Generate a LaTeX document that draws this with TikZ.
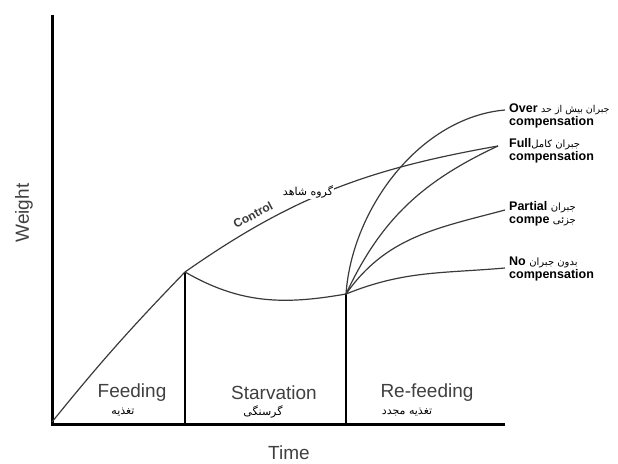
\documentclass[tikz,border=0pt]{standalone}
\usepackage{fontspec}
\setmainfont{Liberation Sans}
\newfontfamily\farsi[Script=Arabic]{DejaVu Sans}
\TeXXeTstate=1
\usepackage{tikz}
\definecolor{ink}{HTML}{3A3A3A}
\definecolor{grey}{HTML}{404040}
\newcommand{\fa}[2][11]{{\farsi\mdseries\fontsize{#1}{12}\selectfont\beginR #2\endR}}

\begin{document}
\begin{tikzpicture}[x=1pt,y=1pt,
    axis/.style={line width=3pt, black},
    phase/.style={line width=2.4pt, black},
    curve/.style={line width=1.2pt, ink},
    big/.style={font=\fontsize{19}{19}\selectfont, text=grey, inner sep=0pt},
    fa/.style={inner sep=1pt},
    comp/.style={font=\fontsize{12.5}{13}\selectfont\bfseries, align=left, anchor=west, inner sep=0pt}]
    \useasboundingbox (0,0) rectangle (618,463);
    \coordinate (top) at (52,448);
    \coordinate (O) at (52,39);
    \coordinate (xend) at (505,39);
    \coordinate (start) at (52,41);
    \coordinate (peak) at (185,191);
    \coordinate (dip) at (346,169);
    \coordinate (peakbase) at (185,39);
    \coordinate (dipbase) at (346,39);
    \coordinate (over) at (505,353);
    \coordinate (full) at (498,317);
    \coordinate (partial) at (505,253);
    \coordinate (none) at (505,195);
    % axes and phases
    \draw [axis] (top) -- (O) -- (xend);
    \draw [phase] (peakbase) -- (peak);
    \draw [phase] (dipbase) -- (dip);
    % curves
    \draw [curve] (start) to [out=51,in=226] (peak);
    \draw [curve] (peak) to [out=35,in=190] (full);
    \draw [curve] (peak) to [out=-30,in=190] (dip);
    \draw [curve] (dip) to [out=86,in=185,looseness=0.9] (over);
    \draw [curve] (dip) to [out=65,in=205] (full);
    \draw [curve] (dip) to [out=55,in=195] (partial);
    \draw [curve] (dip) to [out=22,in=185] (none);
    % labels
    \node [big, rotate=90] (weight) at (24,250) {Weight};
    \node [big] (time) at (289,10) {Time};
    \node [big] (feed) at (132,70) {Feeding};
    \node [fa] (feedfa) at (123,51) {\fa{تغذیه}};
    \node [big] (starve) at (274,70) {Starvation};
    \node [fa] (starvefa) at (263,51) {\fa{گرسنگی}};
    \node [big] (refeed) at (427,70) {Re-feeding};
    \node [fa] (refeedfa) at (407,51) {\fa{تغذیه مجدد}};
    \node [font=\fontsize{12}{12}\selectfont\bfseries, text=ink, rotate=28] (control) at (253,248) {Control};
    \node [fa, fill=white] (controlfa) at (308,271) {\fa{گروه شاهد}};
    \node [comp] (overlbl) at (509,347) {Over \fa[9.5]{جبران بیش از حد}\\compensation};
    \node [comp] (fulllbl) at (509,312) {Full\fa[10]{جبران کامل}\\compensation};
    \node [comp] (partlbl) at (509,249) {Partial \fa[10]{جبران}\\compe \fa[10]{جزئی}};
    \node [comp] (nolbl) at (509,194) {No \fa[10]{بدون جبران}\\compensation};
\end{tikzpicture}
\end{document}
